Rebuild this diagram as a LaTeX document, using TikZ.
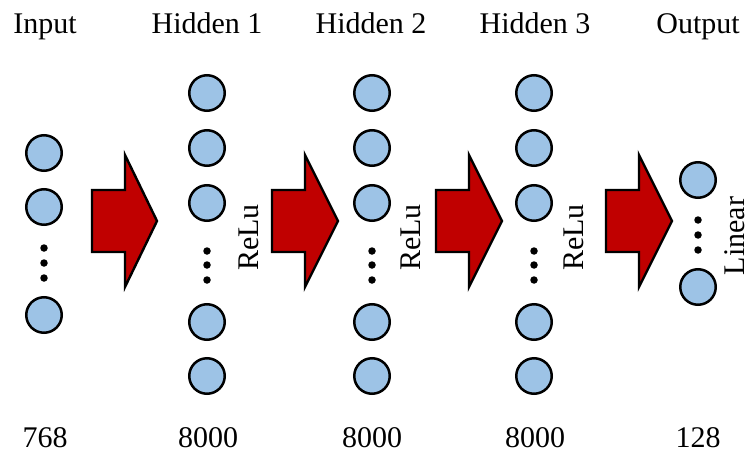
\documentclass[tikz,border=0pt]{standalone}
\usepackage{fontspec}
\setmainfont{Liberation Serif}
\definecolor{neuronblue}{HTML}{9DC3E6}
\definecolor{arrowred}{HTML}{C00000}
\begin{document}
\begin{tikzpicture}[x=1pt,y=-1pt,
  neuron/.style={circle,draw=black,line width=2.5pt,fill=neuronblue,minimum size=35.5pt,inner sep=0pt},
  dot/.style={circle,fill=black,minimum size=7.5pt,inner sep=0pt},
  bigarrow/.style={draw=black,line width=2.4pt,fill=arrowred,line join=miter},
  lbl/.style={font=\fontsize{30}{36}\selectfont,inner sep=0pt,anchor=base},
  act/.style={font=\fontsize{30}{36}\selectfont,inner sep=0pt,anchor=base,rotate=90}]
\useasboundingbox (0,0) rectangle (749,452);
% titles
\node[lbl] (tin) at (45,34) {Input};
\node[lbl] (th1) at (207,34) {Hidden 1};
\node[lbl] (th2) at (371,34) {Hidden 2};
\node[lbl] (th3) at (535,34) {Hidden 3};
\node[lbl] (tout) at (698,34) {Output};
% counts
\node[lbl] (nin) at (45,447) {768};
\node[lbl] (nh1) at (208,447) {8000};
\node[lbl] (nh2) at (372,447) {8000};
\node[lbl] (nh3) at (535,447) {8000};
\node[lbl] (nout) at (698,447) {128};
% input column
\node[neuron] (i1) at (44,153) {};
\node[neuron] (i2) at (44,207) {};
\node[dot] (id1) at (44,248) {};
\node[dot] (id2) at (44,263) {};
\node[dot] (id3) at (44,278) {};
\node[neuron] (i3) at (44,315) {};
% hidden columns
\foreach \c/\x/\r in {1/207/258,2/372/420,3/534/583}{
  \node[neuron] (h\c a) at (\x,93) {};
  \node[neuron] (h\c b) at (\x,148) {};
  \node[neuron] (h\c c) at (\x,203) {};
  \node[dot] (h\c d1) at (\x,251) {};
  \node[dot] (h\c d2) at (\x,265) {};
  \node[dot] (h\c d3) at (\x,280) {};
  \node[neuron] (h\c e) at (\x,322) {};
  \node[neuron] (h\c f) at (\x,376) {};
  \node[act] (relu\c) at (\r,237.5) {ReLu};
}
% output column
\node[neuron] (o1) at (698,180) {};
\node[dot] (od1) at (698,220) {};
\node[dot] (od2) at (698,235) {};
\node[dot] (od3) at (698,250) {};
\node[neuron] (o2) at (698,287) {};
\node[act] (lin) at (744,236) {Linear};
% big arrows
\foreach \l/\b/\t in {92/125/157,272/305/338,436/469/502,606/639/672}{
  \draw[bigarrow] (\l,190) -- (\b,190) -- (\b,155) -- (\t,221) -- (\b,287) -- (\b,252) -- (\l,252) -- cycle;
}
\end{tikzpicture}
\end{document}
